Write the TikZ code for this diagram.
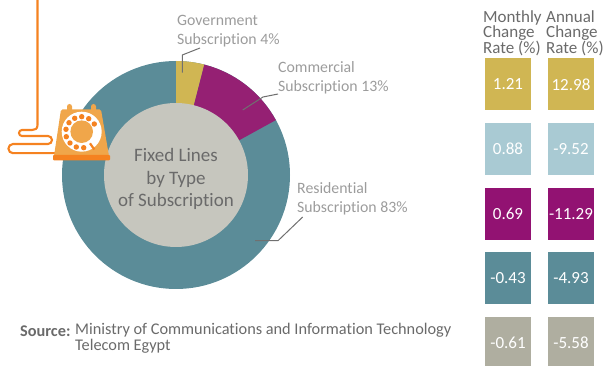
\documentclass[tikz,border=0pt]{standalone}
\usepackage{fontspec}
\setmainfont{Carlito}[Ligatures=NoCommon]
\definecolor{gold}{HTML}{D0B653}
\definecolor{lblue}{HTML}{A9CAD3}
\definecolor{purp}{HTML}{921272}
\definecolor{pieP}{HTML}{952073}
\definecolor{teal2}{HTML}{5B8C98}
\definecolor{grayb}{HTML}{AFAEA0}
\definecolor{inner}{HTML}{C6C6BE}
\definecolor{orng}{HTML}{F58220}
\definecolor{body}{HTML}{F0A64A}
\definecolor{lab}{HTML}{9C9C9C}
\definecolor{dark}{HTML}{6A6A6A}
\definecolor{leader}{HTML}{707070}
\tikzset{
  lbl/.style={anchor=west,inner sep=0pt,text=lab,font=\fontsize{15.8}{19.5}\selectfont,align=left},
  hdr/.style={anchor=north west,inner sep=0pt,text=dark,font=\fontsize{17}{15.8}\selectfont,align=left},
  val/.style={minimum width=46pt,minimum height=52pt,inner sep=0pt,text=white,font=\fontsize{17}{17}\selectfont},
  ldr/.style={draw=leader,line width=1pt},
  cord/.style={draw=orng,line width=2.1pt,rounded corners=0pt}
}
\begin{document}
\begin{tikzpicture}[x=1pt,y=-1pt]
\useasboundingbox (0,0) rectangle (606,366);
% donut
\coordinate (c) at (176,175);
\fill[teal2] (c) circle[radius=114pt];
\fill[gold] (c) -- (176,61) arc[start angle=90,end angle=75.6,radius=114pt] -- cycle;
\fill[pieP] (c) -- (204.3,64.6) arc[start angle=75.6,end angle=28.8,radius=114pt] -- cycle;
\node[circle,fill=inner,minimum size=144pt,inner sep=0pt] (disc) at (c) {};
\node[inner sep=0pt,text=dark,align=center,font=\fontsize{19}{22.5}\selectfont] (hub) at (176,179) {Fixed Lines\\by Type\\of Subscription};
% labels
\node[lbl] (gov) at (177,31) {Government\\Subscription 4\%};
\node[lbl] (com) at (278,78) {Commercial\\Subscription 13\%};
\node[lbl] (res) at (297,199) {Residential\\Subscription 83\%};
% leaders
\coordinate (g1) at (182.3,72.7); \coordinate (g2) at (182.3,55); \coordinate (g3) at (200,48);
\coordinate (m1) at (242.7,110); \coordinate (m2) at (263,97); \coordinate (m3) at (278,94);
\coordinate (r1) at (255,240.7); \coordinate (r2) at (278,240.7); \coordinate (r3) at (302.7,217);
\draw[ldr] (g1) -- (g2) -- (g3);
\draw[ldr] (m1) -- (m2) -- (m3);
\draw[ldr] (r1) -- (r2) -- (r3);
% cord
\draw[cord] (37.5,-2) -- (37.5,125) .. controls (37.5,129) and (35,130) .. (32,130) -- (22,130)
  arc[start angle=90,end angle=270,radius=3pt] -- (48,136)
  arc[start angle=90,end angle=-90,radius=4pt] -- (13,144)
  arc[start angle=90,end angle=270,radius=4.6pt] -- (57,153.2);
% telephone
\fill[body] (67,110) -- (67,106.5) arc[start angle=180,end angle=0,radius=2.5pt] -- (72,110) -- cycle;
\fill[body] (91,110) -- (91,106.5) arc[start angle=180,end angle=0,radius=2.5pt] -- (96,110) -- cycle;
\fill[body,rounded corners=1.5pt] (61,109.5) -- (101,109.5) -- (109,156) -- (54,156) -- cycle;
\fill[orng,rounded corners=1pt] (53,155) -- (110,155) -- (110,160.5) -- (53,160.5) -- cycle;
\coordinate (d) at (81.7,131.7);
\fill[white] (d) circle[radius=20pt];
\fill[body] (d) circle[radius=11.3pt];
\foreach \p in {(69,122.7),(74.7,118.3),(81.7,116.7),(88.7,118.7),(94.3,124),(66,129.3),(66.3,136.7),(70,143),(76.3,147),(83.7,147.7)}
  \fill[orng] \p circle[radius=2.7pt];
\draw[orng,line width=2.2pt] (90,143.3) -- (94.3,149.5);
% boxes
\node[hdr] (h1) at (483,10) {Monthly\\Change\\Rate (\%)};
\node[hdr] (h2) at (546,10) {Annual\\Change\\Rate (\%)};
\node[val,fill=gold] (a1) at (508,84.3) {1.21};
\node[val,fill=gold] (b1) at (571,84.3) {12.98};
\node[val,fill=lblue] (a2) at (508,149) {0.88};
\node[val,fill=lblue] (b2) at (571,149) {-9.52};
\node[val,fill=purp] (a3) at (508,214) {0.69};
\node[val,fill=purp] (b3) at (571,214) {-11.29};
\node[val,fill=teal2] (a4) at (508,278) {-0.43};
\node[val,fill=teal2] (b4) at (571,278) {-4.93};
\node[val,fill=grayb] (a5) at (508,343) {-0.61};
\node[val,fill=grayb] (b5) at (571,343) {-5.58};
% source
\node[anchor=west,inner sep=0pt,text=dark,font=\fontsize{16.3}{16}\bfseries\selectfont] (s0) at (20,331.5) {Source:};
\node[anchor=north west,inner sep=0pt,text=dark,align=left,font=\fontsize{16.3}{15.5}\selectfont] (s1) at (75,323) {Ministry of Communications and Information Technology\\Telecom Egypt};
\end{tikzpicture}
\end{document}
